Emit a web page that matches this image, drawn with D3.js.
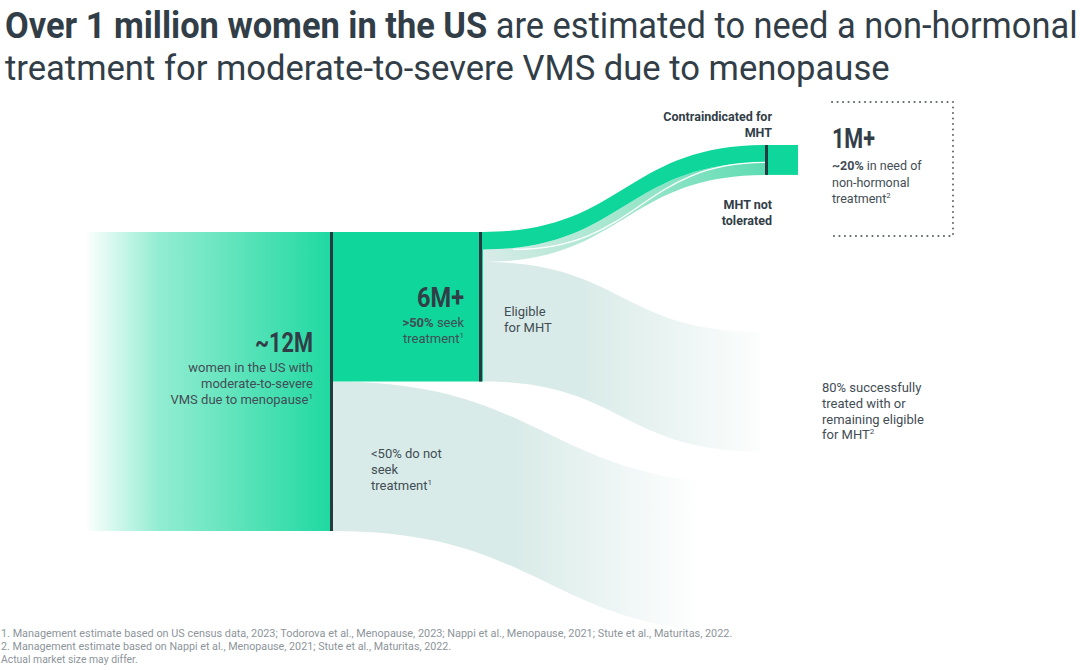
<!DOCTYPE html>
<html>
<head>
<meta charset="utf-8">
<script src="https://cdn.jsdelivr.net/npm/d3@7"></script>
<style>
  body { margin: 0; background: #fff; }
  svg { display: block; }
  text { font-family: Roboto, "Noto Sans", sans-serif; }
</style>
</head>
<body>
<svg id="chart" width="1080" height="670"></svg>
<script>
// all values in millions of women
var stageLabels = ["~12M", "6M+", "1M+"];
var stageValues = [12, 6, 1.2];
var flowNames = ["Do not seek treatment", "Contraindicated for MHT", "MHT not tolerated", "Eligible for MHT"];
var flowValues = [6, 0.7, 0.5, 4.8];
var footnotes = [
    "1. Management estimate based on US census data, 2023; Todorova et al., Menopause, 2023; Nappi et al., Menopause, 2021; Stute et al., Maturitas, 2022.",
    "2. Management estimate based on Nappi et al., Menopause, 2021; Stute et al., Maturitas, 2022.",
    "Actual market size may differ."
];

var green = "#0fd69a", dark = "#263a40", pale = "#d9ebe8", ink = "#323e47", body = "#424d55";

var svg = d3.select("#chart");
var defs = svg.append("defs");

// vertical scale for the flow columns, one for the source side and one for the 1M+ node
var y = d3.scaleLinear().domain([0, stageValues[0]]).range([232, 531]);
var yOut = y.copy().range([145, 145 + (y.range()[1] - y.range()[0])]);
var h = function (v) { return y(v) - y(0); };

// column x positions
var col = { start: 85, mid: 333, split: 483, end: 766 };

function ribbon(x0, y0, x1, y1, th) {
    var xm = (x0 + x1) / 2;
    return "M" + x0 + "," + y0 +
        "C" + xm + "," + y0 + " " + xm + "," + y1 + " " + x1 + "," + y1 +
        "L" + x1 + "," + (y1 + th) +
        "C" + xm + "," + (y1 + th) + " " + xm + "," + (y0 + th) + " " + x0 + "," + (y0 + th) + "Z";
}
function edge(x0, y0, x1, y1) {
    var xm = (x0 + x1) / 2;
    return "M" + x0 + "," + y0 + "C" + xm + "," + y0 + " " + xm + "," + y1 + " " + x1 + "," + y1;
}
function grad(id, x1, x2, stops) {
    var g = defs.append("linearGradient").attr("id", id)
        .attr("gradientUnits", "userSpaceOnUse")
        .attr("x1", x1).attr("x2", x2).attr("y1", 0).attr("y2", 0);
    stops.forEach(function (s) {
        g.append("stop").attr("offset", s[0]).attr("stop-color", s[1]).attr("stop-opacity", s[2]);
    });
}
grad("gTotal", col.start, col.mid - 3, [[0, green, 0], [0.3, green, 0.45], [1, green, 0.93]]);
grad("gNoSeek", col.mid, 700, [[0, pale, 1], [0.5, pale, 1], [1, pale, 0]]);
grad("gElig", col.split, 765, [[0, pale, 1], [0.35, pale, 1], [1, pale, 0.05]]);
grad("gNotTol", col.split, col.end, [[0, pale, 1], [0.45, "#a6e7cf", 1], [1, "#5ddcb2", 1]]);

// flows
var g = svg.append("g");
var seekTop = y(stageValues[0] - flowValues[0]);
g.append("path")
    .attr("d", ribbon(col.mid, seekTop, 760, seekTop + 103, h(flowValues[0])))
    .attr("fill", "url(#gNoSeek)");

var eligTop = y(flowValues[1] + flowValues[2]);
g.append("path")
    .attr("d", ribbon(col.split, eligTop, 760, eligTop + 70, h(flowValues[3])))
    .attr("fill", "url(#gElig)");

g.append("path")
    .attr("d", ribbon(col.split, y(flowValues[1]), col.end, yOut(flowValues[1]), h(flowValues[2])))
    .attr("fill", "url(#gNotTol)");
g.append("path")
    .attr("d", ribbon(col.split, y(0), col.end, yOut(0), h(flowValues[1])))
    .attr("fill", green);
g.append("path")
    .attr("d", edge(col.split + 30, y(flowValues[1]), col.end, yOut(flowValues[1])))
    .attr("fill", "none").attr("stroke", "#fff").attr("stroke-width", 1.3);

// nodes
g.append("rect").attr("x", col.start).attr("y", y(0))
    .attr("width", col.mid - col.start).attr("height", h(stageValues[0]))
    .attr("fill", "url(#gTotal)");
g.append("rect").attr("x", col.mid).attr("y", y(0))
    .attr("width", col.split - col.mid).attr("height", h(stageValues[1]))
    .attr("fill", green);
g.append("rect").attr("x", col.end).attr("y", yOut(0))
    .attr("width", 32).attr("height", h(stageValues[2]))
    .attr("fill", green);
// dark dividers
[[col.mid - 3, y, stageValues[0]], [col.split - 4, y, stageValues[1]], [col.end - 1, yOut, stageValues[2]]]
    .forEach(function (d) {
        g.append("rect").attr("x", d[0]).attr("y", d[1](0))
            .attr("width", 3).attr("height", h(d[2])).attr("fill", dark);
    });

// dotted box around the 1M+ callout
svg.append("path")
    .attr("d", "M832,102H953V236H832")
    .attr("fill", "none").attr("stroke", "#5d666c").attr("stroke-width", 2)
    .attr("stroke-linecap", "round").attr("stroke-dasharray", "0.1,5.4");

// text helpers
function squeeze(sel, x, w) {
    var bw = sel.node().getBBox().width;
    sel.attr("transform", "translate(" + x + ",0) scale(" + (w / bw) + ",1) translate(" + (-x) + ",0)");
}
function line(x, yy, parts, opt) {
    var t = svg.append("text").attr("x", x).attr("y", yy)
        .attr("font-size", opt.size).attr("fill", opt.fill)
        .attr("text-anchor", opt.anchor || "start");
    parts.forEach(function (p) {
        var s = t.append("tspan").text(p.t);
        if (p.b || opt.bold) s.attr("font-weight", 700);
        if (p.sup) s.attr("font-size", opt.size * 0.62).attr("dy", -opt.size * 0.42);
    });
    return t;
}

// title
var t1 = line(5, 38, [{ t: "Over 1 million women in the US", b: true }, { t: " are estimated to need a non-hormonal" }], { size: 36, fill: ink });
squeeze(t1, 5, 1073);
var t2 = line(5, 80, [{ t: "treatment for moderate-to-severe VMS due to menopause" }], { size: 36, fill: ink });
squeeze(t2, 5, 885);

// big stage numbers
var big = { size: 28, fill: ink, bold: true, anchor: "end" };
squeeze(line(313, 352, [{ t: stageLabels[0] }], big), 313, 58);
squeeze(line(464, 307, [{ t: stageLabels[1] }], big), 464, 47);
squeeze(line(832, 148, [{ t: stageLabels[2] }], { size: 28, fill: ink, bold: true }), 832, 43);

var sm = { size: 13, fill: body, anchor: "end" };
line(313, 372, [{ t: "women in the US with" }], sm);
line(313, 388, [{ t: "moderate-to-severe" }], sm);
line(313, 404, [{ t: "VMS due to menopause" }, { t: "1", sup: true }], sm);

line(464, 327, [{ t: ">50%", b: true }, { t: " seek" }], sm);
line(464, 343, [{ t: "treatment" }, { t: "1", sup: true }], sm);

var ls = { size: 13, fill: body };
line(504, 316, [{ t: "Eligible" }], ls);
line(504, 332, [{ t: "for MHT" }], ls);

line(371, 458, [{ t: "<50% do not" }], ls);
line(371, 474, [{ t: "seek" }], ls);
line(371, 490, [{ t: "treatment" }, { t: "1", sup: true }], ls);

line(822, 392, [{ t: "80% successfully" }], ls);
line(822, 408, [{ t: "treated with or" }], ls);
line(822, 424, [{ t: "remaining eligible" }], ls);
line(822, 439, [{ t: "for MHT" }, { t: "2", sup: true }], ls);

var lb = { size: 12.5, fill: ink, bold: true, anchor: "end" };
line(772, 121, [{ t: "Contraindicated for" }], lb);
line(772, 137, [{ t: "MHT" }], lb);
line(772, 209, [{ t: "MHT not" }], lb);
line(772, 225, [{ t: "tolerated" }], lb);

var cs = { size: 12.5, fill: body };
line(832, 170, [{ t: "~20%", b: true }, { t: " in need of" }], cs);
line(832, 187, [{ t: "non-hormonal" }], cs);
line(832, 203, [{ t: "treatment" }, { t: "2", sup: true }], cs);

// footnotes
var fn = { size: 11, fill: "#8d959b" };
squeeze(line(1, 637, [{ t: footnotes[0] }], fn), 1, 732);
squeeze(line(1, 650, [{ t: footnotes[1] }], fn), 1, 451);
squeeze(line(1, 663, [{ t: footnotes[2] }], fn), 1, 137);
</script>
</body>
</html>
